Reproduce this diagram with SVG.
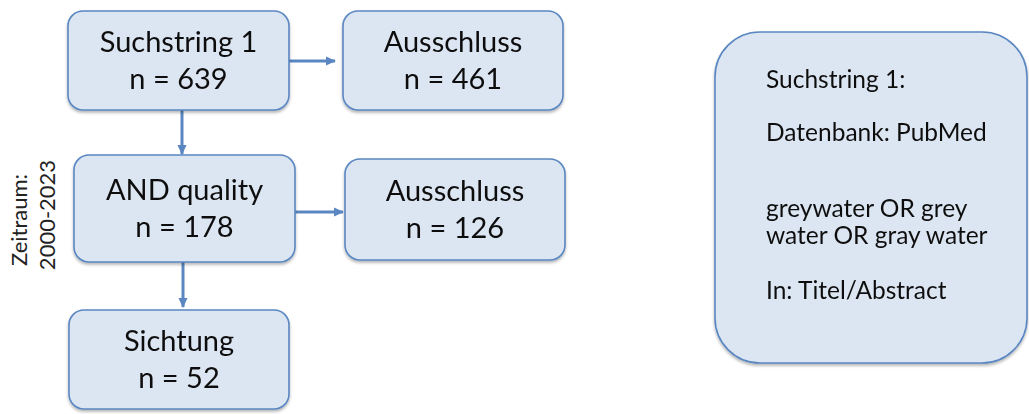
<svg xmlns="http://www.w3.org/2000/svg" width="1029" height="414" viewBox="0 0 1029 414">
<style>
.box{fill:#dce6f2;stroke:#5a87c1;stroke-width:1.6}
.t{font-family:Lato,"Liberation Sans",sans-serif;font-size:29px;fill:#111;text-anchor:middle}
.r{font-family:Lato,"Liberation Sans",sans-serif;font-size:24.5px;fill:#111}
.v{font-family:Lato,"Liberation Sans",sans-serif;font-size:22px;fill:#222;text-anchor:middle}
.c{stroke:#5a87c1;stroke-width:3;fill:none}
</style>
<defs>
<marker id="ah" markerWidth="10" markerHeight="10" refX="9" refY="5" orient="auto" markerUnits="userSpaceOnUse" viewBox="0 0 10 10"><path d="M0,0.5 L10,5 L0,9.5 Z" fill="#5a87c1"/></marker>
<filter id="sh" x="-10%" y="-10%" width="120%" height="130%"><feGaussianBlur in="SourceAlpha" stdDeviation="1.5"/><feOffset dx="0" dy="2"/><feComponentTransfer><feFuncA type="linear" slope="0.3"/></feComponentTransfer><feMerge><feMergeNode/><feMergeNode in="SourceGraphic"/></feMerge></filter>
</defs>
<g id="connectors">
<line class="c" x1="289" y1="61" x2="335" y2="61" marker-end="url(#ah)"/>
<line class="c" x1="182" y1="110" x2="182" y2="154" marker-end="url(#ah)"/>
<line class="c" x1="295" y1="212" x2="343" y2="212" marker-end="url(#ah)"/>
<line class="c" x1="183" y1="262" x2="183" y2="307" marker-end="url(#ah)"/>
</g>
<g id="n1" filter="url(#sh)"><rect class="box" x="68" y="11" width="221" height="99" rx="15"/><text class="t" x="178.5" y="52">Suchstring 1</text><text class="t" x="178.5" y="89">n = 639</text></g>
<g id="n2" filter="url(#sh)"><rect class="box" x="343" y="11" width="220" height="99" rx="15"/><text class="t" x="453" y="52">Ausschluss</text><text class="t" x="453" y="89">n = 461</text></g>
<g id="n3" filter="url(#sh)"><rect class="box" x="74" y="155" width="221" height="107" rx="15"/><text class="t" x="184.5" y="200">AND quality</text><text class="t" x="184.5" y="237">n = 178</text></g>
<g id="n4" filter="url(#sh)"><rect class="box" x="345" y="159" width="220" height="101" rx="15"/><text class="t" x="455" y="201">Ausschluss</text><text class="t" x="455" y="238">n = 126</text></g>
<g id="n5" filter="url(#sh)"><rect class="box" x="69" y="310" width="220" height="99" rx="15"/><text class="t" x="179" y="351">Sichtung</text><text class="t" x="179" y="388">n = 52</text></g>
<g id="n6" filter="url(#sh)"><rect class="box" x="715" y="32" width="312" height="331" rx="45"/>
<text class="r" x="766" y="88">Suchstring 1:</text>
<text class="r" x="766" y="141">Datenbank: PubMed</text>
<text class="r" x="766" y="217">greywater OR grey</text>
<text class="r" x="766" y="244">water OR gray water</text>
<text class="r" x="766" y="299">In: Titel/Abstract</text>
</g>
<g id="label">
<text class="v" transform="translate(27,220) rotate(-90)">Zeitraum:</text>
<text class="v" transform="translate(55,215) rotate(-90)">2000-2023</text>
</g>
</svg>
